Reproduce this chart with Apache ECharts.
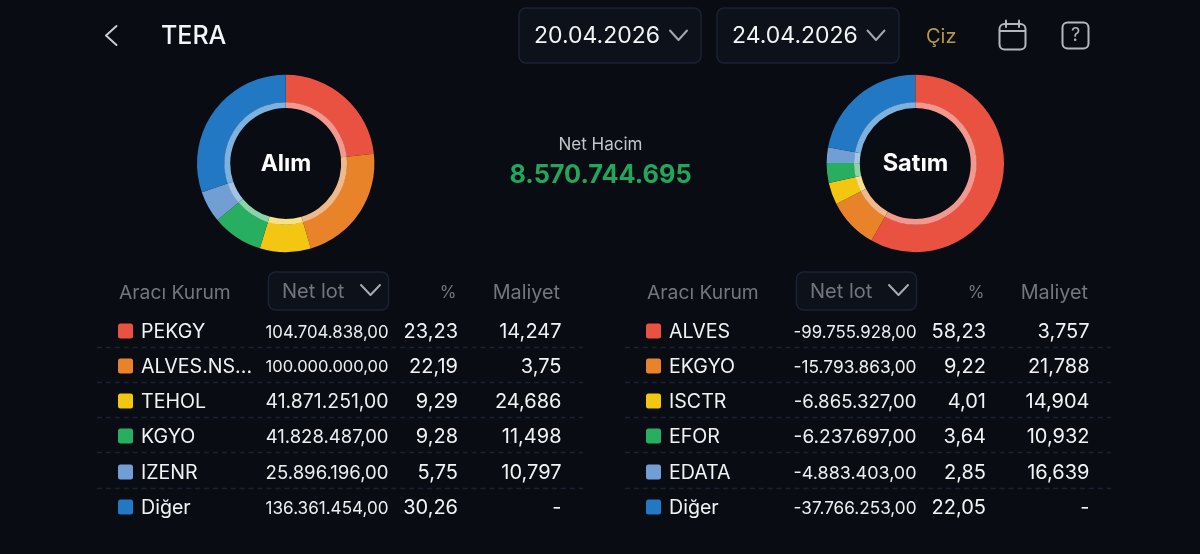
<!DOCTYPE html>
<html><head><meta charset="utf-8">
<style>html,body{margin:0;padding:0;background:#090c13}#c{width:1200px;height:554px}</style>
<script src="https://cdn.jsdelivr.net/npm/echarts@6/dist/echarts.min.js"></script>
</head><body><div id="c"></div>
<script>
const sliceColors = ['#e95240','#e8832a','#f3c611','#28ae61','#729fd3','#2378c4'];
const ringColors  = ['#f2988f','#f0b98c','#f8e08a','#8bd3a8','#a5c3e4','#7fb1de'];
const buyNames  = ['PEKGY','ALVES.NS...','TEHOL','KGYO','IZENR','Diğer'];
const buyLots   = [104704838,100000000,41871251,41828487,25896196,136361454];
const buyPct    = [23.23,22.19,9.29,9.28,5.75,30.26];
const buyCost   = ['14,247','3,75','24,686','11,498','10,797','-'];
const sellNames = ['ALVES','EKGYO','ISCTR','EFOR','EDATA','Diğer'];
const sellLots  = [-99755928,-15793863,-6865327,-6237697,-4883403,-37766253];
const sellPct   = [58.23,9.22,4.01,3.64,2.85,22.05];
const sellCost  = ['3,757','21,788','14,904','10,932','16,639','-'];
const headers   = ['Aracı Kurum','Net lot','%','Maliyet'];

const FONT = 'Inter, "Noto Sans", sans-serif';
const fmtLot = v => (v < 0 ? '-' : '') + String(Math.abs(v)).replace(/\B(?=(\d{3})+$)/g, '.') + ',00';
const fmtPct = v => v.toFixed(2).replace('.', ',');
const rowY = [331,366,401,436,472,507];
const ctx = document.createElement('canvas').getContext('2d');
function fitSize(text, width) {
  ctx.font = '100px ' + FONT;
  return 100 * width / ctx.measureText(text).width;
}

const g = [];
function txt(x, y, text, size, fill, align, weight) {
  g.push({type:'text', x, y, silent:true, style:{text, fill, align:align||'left', verticalAlign:'middle',
    font:(weight||400)+' '+size+'px '+FONT}});
}
function box(x, y, w, h) {
  g.push({type:'rect', silent:true, shape:{x,y,width:w,height:h,r:7},
    style:{fill:'#0c111a', stroke:'#1b2233', lineWidth:1.5}});
}
function poly(points, stroke, lw) {
  g.push({type:'polyline', silent:true, shape:{points}, style:{fill:null, stroke, lineWidth:lw, lineCap:'round', lineJoin:'round'}});
}
function table(dx, names, lots, pct, cost) {
  txt(119+dx, 293, headers[0], 19.3, '#73767d');
  box(268.5+dx, 272, 120, 38);
  txt(282+dx, 291.5, headers[1], 20, '#73767d');
  poly([[361+dx,285],[370.5+dx,295],[380+dx,285]], '#a9abb0', 2);
  txt(456.5+dx, 293, headers[2], 17, '#73767d', 'right');
  txt(560+dx, 293, headers[3], 19.8, '#73767d', 'right');
  names.forEach((n, i) => {
    const y = rowY[i];
    g.push({type:'rect', silent:true, shape:{x:118+dx,y:y-7.5,width:15,height:15,r:2.5}, style:{fill:sliceColors[i]}});
    txt(141+dx, y+1, n, 19.6, '#f2f3f5');
    const lot = fmtLot(lots[i]);
    txt(388.5+dx, y+1.5, lot, fitSize(lot, 123), '#eceef0', 'right');
    txt(458+dx, y+1, fmtPct(pct[i]), 20, '#f2f3f5', 'right');
    txt(561.5+dx, y+1, cost[i], 20, '#f2f3f5', 'right');
    if (i < 5) g.push({type:'line', silent:true, shape:{x1:97+dx,y1:y+16.5,x2:583+dx,y2:y+16.5},
      style:{stroke:'#1a2133', lineWidth:1.3, lineDash:[5,3.92]}});
  });
}
// header
poly([[116.5,26],[106,35.5],[116.5,45]], '#c9cbd0', 2);
txt(161, 36, 'TERA', 25, '#f4f5f7', 'left', 500);
box(519, 8, 182, 55); box(717, 8, 182, 55);
txt(534, 36.5, '20.04.2026', 23, '#f2f3f5');
txt(732, 36.5, '24.04.2026', 23, '#f2f3f5');
poly([[670,30.5],[678.5,40],[687,30.5]], '#a4a7ad', 2);
poly([[867.5,30.5],[876,40],[884.5,30.5]], '#a4a7ad', 2);
txt(926, 36.5, 'Çiz', 20, '#b49a48');
// calendar icon
g.push({type:'rect', silent:true, shape:{x:999.5,y:24,width:26,height:25.5,r:5}, style:{fill:null,stroke:'#b4b7bd',lineWidth:2}});
g.push({type:'line', silent:true, shape:{x1:1000,y1:31,x2:1025,y2:31}, style:{stroke:'#b4b7bd',lineWidth:2}});
g.push({type:'line', silent:true, shape:{x1:1006,y1:20.5,x2:1006,y2:27}, style:{stroke:'#b4b7bd',lineWidth:2,lineCap:'round'}});
g.push({type:'line', silent:true, shape:{x1:1019,y1:20.5,x2:1019,y2:27}, style:{stroke:'#b4b7bd',lineWidth:2,lineCap:'round'}});
// help icon
g.push({type:'rect', silent:true, shape:{x:1062.5,y:22.5,width:26,height:26,r:5}, style:{fill:null,stroke:'#b4b7bd',lineWidth:2}});
txt(1075.5, 36, '?', 18, '#b4b7bd', 'center');
// center
txt(600.5, 145, 'Net Hacim', 17, '#c4c6ca', 'center');
txt(600.5, 175.5, '8.570.744.695', 25.3, '#22a65b', 'center', 700);
txt(286, 164, 'Alım', 23, '#ffffff', 'center', 700);
txt(915.5, 164, 'Satım', 23.6, '#ffffff', 'center', 700);
table(0, buyNames, buyLots, buyPct, buyCost);
table(528, sellNames, sellLots, sellPct, sellCost);

function pies(center, names, pct) {
  const mk = (radius, colors) => ({
    type:'pie', center, radius, startAngle:90, clockwise:true, silent:true, animation:false,
    label:{show:false}, labelLine:{show:false},
    data:names.map((name,i)=>({name, value:pct[i], itemStyle:{color:colors[i]}}))
  });
  return [mk([61,88.7], sliceColors), mk([55.5,61.3], ringColors)];
}
const chart = echarts.init(document.getElementById('c'), null, {renderer:'canvas'});
chart.setOption({
  backgroundColor:'#090c13', animation:false,
  series:[...pies([285.7,163.5], buyNames, buyPct), ...pies([915.3,163.5], sellNames, sellPct)],
  graphic:{elements:g}
});
</script></body></html>
